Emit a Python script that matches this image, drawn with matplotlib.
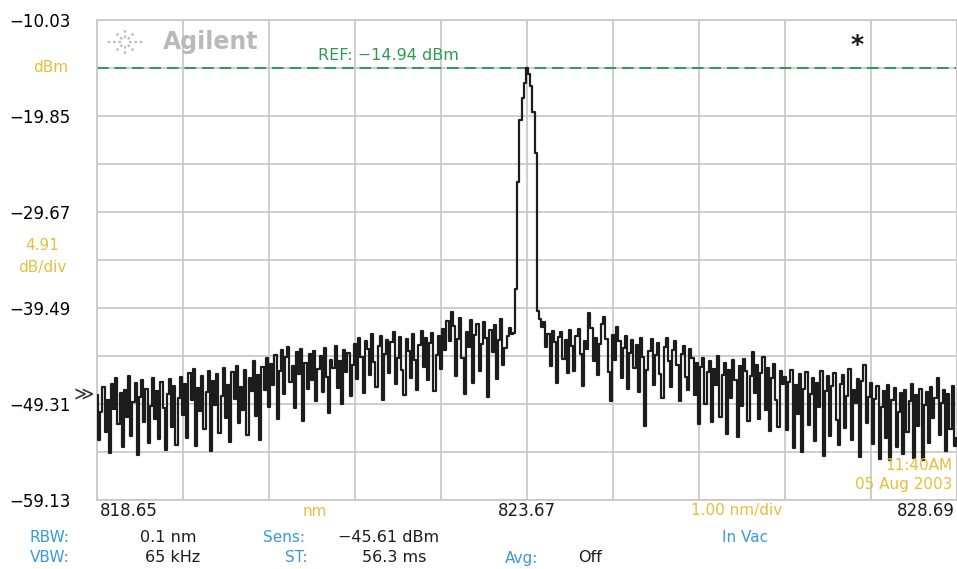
import numpy as np
import matplotlib
matplotlib.use("Agg")
import matplotlib.pyplot as plt
from matplotlib.lines import Line2D

# Datos del trazo (dBm), 401 puntos entre 818.65 y 828.69 nm
wl_start = 818.65
wl_stop = 828.69
nivel_izq = [
    -48.4, -53.0, -50.1, -47.6, -52.2, -48.9, -54.3, -47.3, -49.8, -46.7,
    -51.4, -48.2, -53.7, -47.9, -50.6, -46.4, -52.6, -49.1, -47.2, -54.5,
    -48.6, -46.9, -51.2, -47.8, -53.3, -49.5, -46.6, -50.8, -48.0, -52.9,
    -47.1, -49.7, -54.0, -48.3, -46.8, -51.7, -47.5, -53.5, -48.7, -46.5,
    -50.4, -47.3, -52.8, -46.1, -48.9, -45.7, -53.6, -47.7, -50.0, -46.4,
    -51.9, -48.1, -45.9, -54.1, -47.0, -49.4, -46.2, -52.3, -48.5, -45.6,
    -50.7, -47.4, -53.2, -46.0, -48.8, -45.4, -51.3, -47.6, -49.9, -45.8,
    -52.5, -46.6, -48.0, -44.9, -50.5, -46.3, -53.0, -45.5, -47.9, -44.6,
    -49.6, -45.2, -47.4, -44.3, -50.8, -45.9, -43.8, -48.3, -44.5, -43.5,
    -47.1, -45.4, -49.7, -44.0, -46.2, -43.7, -51.0, -45.1, -47.8, -44.2,
    -46.9, -43.9, -49.0, -45.7, -44.4, -48.1, -43.6, -46.5, -50.2, -44.8,
    -45.6, -43.4, -47.7, -44.9, -49.3, -43.8, -46.0, -44.1, -48.5, -45.3,
    -43.2, -46.8, -42.6, -44.5, -48.2, -42.9, -43.7, -46.3, -42.1, -45.0,
    -47.6, -43.4, -42.4, -48.9, -44.2, -42.8, -46.1, -43.0, -41.9, -47.3,
    -44.6, -42.5, -45.8, -48.4, -42.7, -43.9, -46.6, -42.2, -44.8, -47.9,
    -43.3, -41.8, -45.5, -42.6, -46.9, -43.1, -42.0, -48.0, -44.3, -42.4,
    -45.7, -41.6, -43.8, -40.8, -42.9, -39.9, -41.3, -46.4, -42.7, -40.5,
    -44.6, -48.3, -41.9, -43.5, -40.7, -47.2, -42.3, -41.1, -45.9, -43.2,
    -40.9, -42.6, -48.6, -41.7, -44.0, -41.2, -46.8, -42.8, -40.6, -45.3,
    -43.6, -42.4, -41.5, -42.1,
]
nivel_pico = [-42.0, -37.5, -26.6, -20.3, -18.0, -16.5, -14.94,
              -15.6, -16.8, -19.4, -23.6, -39.8, -40.6, -41.4]
nivel_der = [
    -40.9, -43.5, -42.2, -45.4, -41.8, -43.0, -47.2, -42.5, -41.9, -44.7,
    -42.8, -46.1, -41.7, -43.4, -45.9, -42.4, -41.6, -44.2, -47.5, -42.9,
    -43.7, -40.0, -41.5, -44.9, -42.6, -46.3, -43.2, -41.1, -40.4, -42.7,
    -46.0, -49.0,
    -42.3, -44.8, -41.4, -42.9, -46.7, -43.6, -42.4, -47.8, -44.1, -42.8,
    -45.6, -43.3, -48.1, -42.6, -44.5, -51.6, -45.8, -43.9, -42.7, -47.4,
    -44.3, -43.1, -46.2, -48.7, -43.5, -42.6, -44.9, -47.6, -43.8, -42.9,
    -45.3, -49.0, -44.2, -43.4, -46.5, -47.9, -43.7, -44.6, -48.4, -45.1,
    -51.4, -45.5, -44.6, -49.3, -46.0, -44.9, -51.2, -45.7, -47.4, -44.4,
    -50.6, -46.3, -45.1, -52.4, -45.8, -48.7, -44.8, -46.9, -52.7, -45.4,
    -49.5, -44.7, -45.9, -51.0, -46.4, -44.0, -48.2, -45.3, -50.8, -46.1,
    -44.5, -49.9, -45.6, -52.1, -46.6, -45.2, -48.9, -51.7, -45.9, -47.3,
    -46.5, -52.0, -47.1, -45.8, -53.8, -47.4, -50.3, -46.2, -54.2, -47.8,
    -46.0, -51.5, -48.3, -46.7, -53.1, -47.2, -49.6, -45.9, -54.6, -48.0,
    -46.4, -52.6, -47.5, -46.1, -50.9, -53.5, -47.3, -46.3, -51.8, -48.5,
    -45.7, -53.0, -47.9, -49.2, -46.8, -54.7, -47.0, -45.3, -51.3, -48.6,
    -47.2, -53.4, -48.8, -47.5, -54.9, -49.6, -48.0, -52.8, -47.4, -55.0,
    -48.9, -47.7, -53.7, -50.1, -48.2, -54.4, -47.9, -52.2, -49.0, -47.3,
    -54.8, -48.4, -51.6, -47.8, -55.0, -49.4, -48.1, -53.3, -47.6, -50.7,
    -48.7, -46.6, -52.5, -49.2, -47.9, -54.1, -48.3, -51.9, -47.5, -53.6,
    -52.8,
]
nivel = nivel_izq + nivel_pico + nivel_der
ref_dbm = -14.94
y_top = -10.03
y_bottom = -59.13
y_labels = ["−10.03", "", "−19.85", "", "−29.67", "", "−39.49", "", "−49.31", "", "−59.13"]

wl = np.linspace(wl_start, wl_stop, len(nivel))

W, H = 957, 569
fig = plt.figure(figsize=(W / 100, H / 100), dpi=100)
ax = fig.add_axes([97 / W, 1 - 500 / H, 860 / W, 480 / H])

GRIS = "#c6c6c6"
ORO = "#e6bf3c"
AZUL = "#3a9ad9"
VERDE = "#2f9a52"

ax.plot(wl, nivel, drawstyle="steps-mid", color="#1c1c1c", lw=1.6, zorder=3)
ax.axhline(ref_dbm, color=VERDE, ls=(0, (6, 3)), lw=1.4, zorder=2)

ax.set_xlim(wl_start, wl_stop)
ax.set_ylim(y_bottom, y_top)
ax.set_xticks(np.linspace(wl_start, wl_stop, 11))
ax.set_xticklabels([])
ax.set_yticks(np.linspace(y_top, y_bottom, 11))
ax.set_yticklabels(y_labels, fontsize=12)
ax.tick_params(length=0, pad=19)
ax.grid(True, color=GRIS, lw=1.2)
for s in ax.spines.values():
    s.set_color(GRIS)
    s.set_linewidth(1.2)


def txt(x, y, s, **kw):
    fig.text(x / W, 1 - y / H, s, va="center", **kw)


txt(68, 68, "dBm", color=ORO, fontsize=11, ha="right")
txt(42, 245, "4.91", color=ORO, fontsize=11, ha="center")
txt(42, 268, "dB/div", color=ORO, fontsize=11, ha="center")
txt(74, 395, "≫", color="#333333", fontsize=14, ha="left")

txt(318, 56, "REF: −14.94 dBm", color=VERDE, fontsize=11.5, ha="left")
txt(857, 45, "*", color="#1c1c1c", fontsize=18, ha="center", fontweight="bold")

# logo
txt(163, 42, "Agilent", color="#b9b9b9", fontsize=17, fontweight="bold", ha="left")
cx, cy = 125, 42
for ang in np.arange(0, 360, 45):
    dx, dy = np.cos(np.radians(ang)), np.sin(np.radians(ang))
    r0, r1 = 4, (19 if ang % 180 == 0 else 13)
    fig.add_artist(Line2D([(cx + r0 * dx) / W, (cx + r1 * dx) / W],
                          [1 - (cy + r0 * dy) / H, 1 - (cy + r1 * dy) / H],
                          color="#bdbdbd", lw=1.6, ls=(0, (1.2, 1.2))))

txt(952, 465, "11:40AM", color=ORO, fontsize=11, ha="right")
txt(952, 485, "05 Aug 2003", color=ORO, fontsize=11, ha="right")

# eje x
txt(100, 511, "818.65", color="#1c1c1c", fontsize=12, ha="left")
txt(315, 511, "nm", color=ORO, fontsize=11, ha="center")
txt(527, 511, "823.67", color="#1c1c1c", fontsize=12, ha="center")
txt(737, 511, "1.00 nm/div", color=ORO, fontsize=11, ha="center")
txt(955, 511, "828.69", color="#1c1c1c", fontsize=12, ha="right")

# parametros
txt(30, 537, "RBW:", color=AZUL, fontsize=11, ha="left")
txt(140, 537, "0.1 nm", color="#1c1c1c", fontsize=11.5, ha="left")
txt(263, 537, "Sens:", color=AZUL, fontsize=11, ha="left")
txt(338, 537, "−45.61 dBm", color="#1c1c1c", fontsize=11.5, ha="left")
txt(745, 537, "In Vac", color=AZUL, fontsize=11, ha="center")
txt(30, 558, "VBW:", color=AZUL, fontsize=11, ha="left")
txt(145, 558, "65 kHz", color="#1c1c1c", fontsize=11.5, ha="left")
txt(285, 558, "ST:", color=AZUL, fontsize=11, ha="left")
txt(362, 558, "56.3 ms", color="#1c1c1c", fontsize=11.5, ha="left")
txt(505, 558, "Avg:", color=AZUL, fontsize=11, ha="left")
txt(578, 558, "Off", color="#1c1c1c", fontsize=11.5, ha="left")

fig.savefig("out.png", dpi=100)
